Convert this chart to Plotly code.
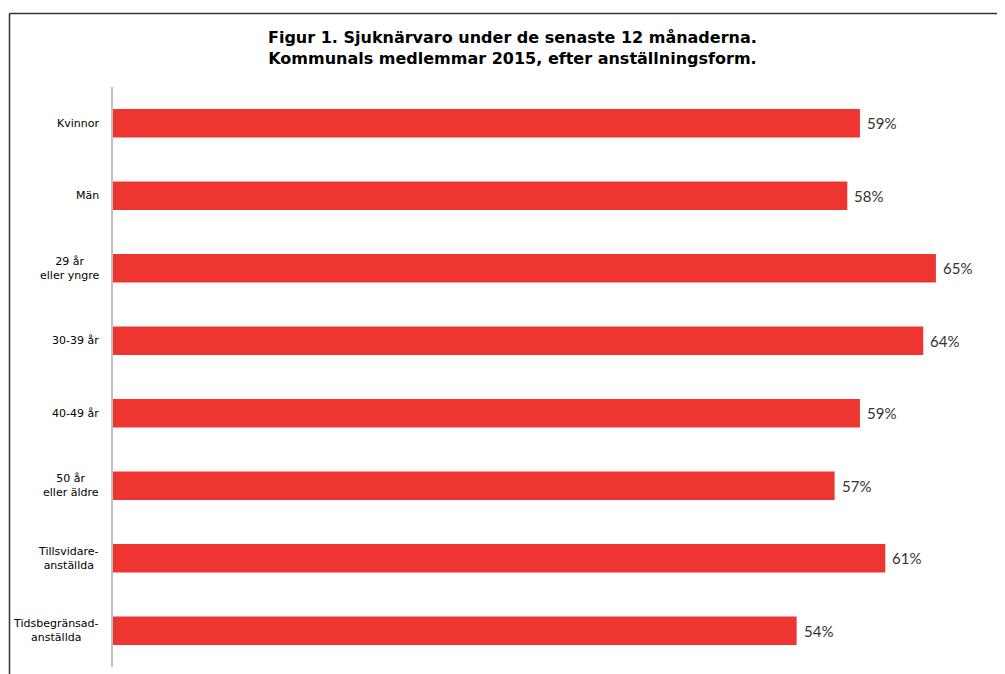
import plotly.graph_objects as go

categories = ["Kvinnor", "Män", "29 år<br>eller yngre", "30-39 år", "40-49 år",
              "50 år<br>eller äldre", "Tillsvidare-<br>anställda", "Tidsbegränsad-<br>anställda"]
values = [59, 58, 65, 64, 59, 57, 61, 54]
value_labels = [f"{v}%" for v in values]
title_lines = ["Figur 1. Sjuknärvaro under de senaste 12 månaderna.",
               "Kommunals medlemmar 2015, efter anställningsform."]

OFF = 8  # page body margin
W, H = 1005 - OFF, 674 - OFF
L, R, T, B = 113 - OFF, 0, 87 - OFF, 7
plot_w = W - L - R
plot_h = H - T - B


def px_x(px):
    return (px - OFF - L) / plot_w


def px_y(py):
    return (H - B - (py - OFF)) / plot_h


fig = go.Figure(go.Bar(
    x=values, y=categories, orientation="h",
    marker=dict(color="#EE3532", line=dict(width=0)),
    width=0.39, hoverinfo="x+y",
))

annotations = []
for c in categories:
    annotations.append(dict(
        x=px_x(101), xref="paper", y=c, yref="y",
        text=c, showarrow=False, xanchor="right", yanchor="middle", align="center",
        font=dict(family="DejaVu Sans", size=11, color="#000000"),
    ))
for c, v, t in zip(categories, values, value_labels):
    annotations.append(dict(
        x=v, xref="x", y=c, yref="y", text=t, showarrow=False,
        xanchor="left", yanchor="middle", xshift=5,
        font=dict(family="Lato", size=15, color="#333333"),
    ))
annotations.append(dict(
    x=px_x(512), xref="paper", y=px_y(48), yref="paper",
    yanchor="middle", xanchor="center", showarrow=False, align="center",
    text="<b>" + "<br>".join(title_lines) + "</b>",
    font=dict(family="DejaVu Sans", size=16, color="#000000"),
))

shapes = [
    dict(type="line", xref="paper", yref="paper",
         x0=px_x(9.5), x1=1.01, y0=px_y(13.5), y1=px_y(13.5),
         line=dict(color="#333333", width=1.5)),
    dict(type="line", xref="paper", yref="paper",
         x0=px_x(9.5), x1=px_x(9.5), y0=px_y(13.5), y1=-0.05,
         line=dict(color="#333333", width=1.5)),
]

fig.update_layout(
    width=W, height=H,
    margin=dict(l=L, r=R, t=T, b=B, pad=0),
    plot_bgcolor="white", paper_bgcolor="white",
    showlegend=False,
    annotations=annotations, shapes=shapes,
    bargap=0.61,
)
fig.update_xaxes(range=[0, plot_w / 12.66], visible=False, fixedrange=True)
fig.update_yaxes(autorange="reversed", showticklabels=False, ticks="",
                 showline=True, linecolor="#BFBFBF", linewidth=1.5, showgrid=False,
                 zeroline=False)

fig.write_html("out.html", config={"displayModeBar": False},
               post_script="document.body.style.overflow='hidden';")
